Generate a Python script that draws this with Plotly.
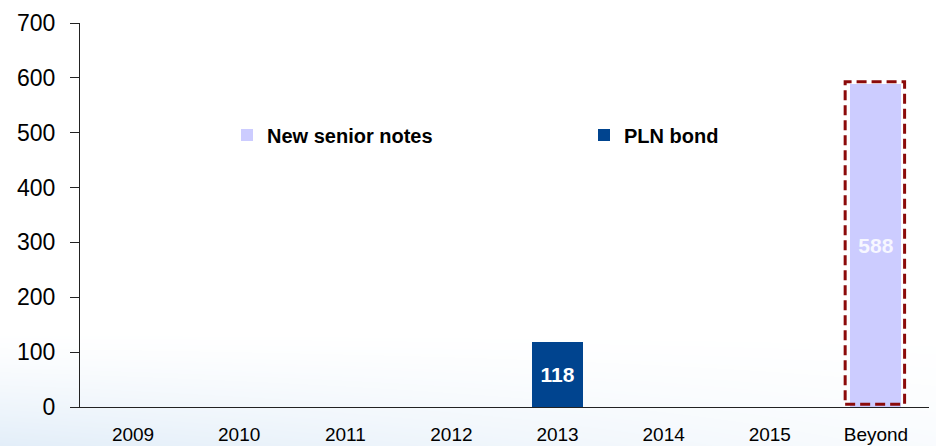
import base64
import struct
import zlib

import numpy as np
import plotly.graph_objects as go

# ---- data -------------------------------------------------------------
categories = ["2009", "2010", "2011", "2012", "2013", "2014", "2015", "Beyond"]
new_senior_notes = [None, None, None, None, None, None, None, 588]
pln_bond = [None, None, None, None, 118, None, None, None]
y_ticks = [0, 100, 200, 300, 400, 500, 600, 700]

FONT = "Liberation Sans, Arial, sans-serif"
W, H = 936, 446
MARGIN = dict(l=80, r=7, t=23, b=39, autoexpand=False)


def png_data_uri(rgba):
    """Encode an RGBA uint8 array as a PNG data URI (stdlib only)."""
    h, w, _ = rgba.shape
    raw = b"".join(b"\x00" + rgba[i].tobytes() for i in range(h))

    def chunk(tag, data):
        c = struct.pack(">I", len(data)) + tag + data
        return c + struct.pack(">I", zlib.crc32(tag + data) & 0xFFFFFFFF)

    png = (b"\x89PNG\r\n\x1a\n"
           + chunk(b"IHDR", struct.pack(">IIBBBBB", w, h, 8, 6, 0, 0, 0))
           + chunk(b"IDAT", zlib.compress(raw, 9))
           + chunk(b"IEND", b""))
    return "data:image/png;base64," + base64.b64encode(png).decode()


# soft light-blue wash along the bottom of the page, fading up and to the right
GRAD_TOP = 330
gh = H - GRAD_TOP
yy, xx = np.mgrid[0:gh, 0:W].astype(float)
v = np.clip(yy / (gh - 1), 0, 1) ** 1.3
hfac = np.clip(1.0 - xx / 1000.0, 0, 1) ** 1.2
alpha = 0.66 * v * (0.2 + 0.8 * hfac)
img = np.zeros((gh, W, 4), dtype=np.uint8)
img[..., 0] = 212
img[..., 1] = 229
img[..., 2] = 245
img[..., 3] = np.clip(alpha * 255, 0, 255).astype(np.uint8)
wash = png_data_uri(img)

pw = W - MARGIN["l"] - MARGIN["r"]
ph = H - MARGIN["t"] - MARGIN["b"]


def px_x(px):
    return (px - MARGIN["l"]) / pw


def px_y(py):
    return (H - MARGIN["b"] - py) / ph


fig = go.Figure()

fig.add_trace(go.Bar(
    name="New senior notes",
    x=categories,
    y=new_senior_notes,
    marker=dict(color="#CCCCFF", line=dict(width=0)),
    texttemplate="%{y}",
    textposition="inside",
    insidetextanchor="middle",
    textangle=0,
    textfont=dict(family=FONT, size=21, color="#F7F7FF", weight="bold"),
    legend="legend",
))
fig.add_trace(go.Bar(
    name="PLN bond",
    x=categories,
    y=pln_bond,
    marker=dict(color="#00448F", line=dict(width=0)),
    texttemplate="%{y}",
    textposition="inside",
    insidetextanchor="middle",
    textangle=0,
    textfont=dict(family=FONT, size=21, color="white", weight="bold"),
    legend="legend2",
))

# dashed highlight around the "Beyond" bar
beyond_idx = categories.index("Beyond")
beyond_val = new_senior_notes[beyond_idx]
fig.add_shape(
    type="rect", xref="x", yref="y",
    x0=beyond_idx - 0.29, x1=beyond_idx + 0.27,
    y0=5, y1=beyond_val + 5,
    line=dict(color="#8B0A0A", width=3, dash="10px,5px"),
    fillcolor="rgba(0,0,0,0)",
    layer="above",
)

fig.add_layout_image(
    source=wash, xref="paper", yref="paper",
    x=px_x(0), y=px_y(GRAD_TOP),
    sizex=W / pw, sizey=gh / ph,
    xanchor="left", yanchor="top",
    sizing="stretch", layer="below",
)

legend_style = dict(
    orientation="h", xanchor="left", yanchor="middle",
    font=dict(family=FONT, size=20, color="black", weight="bold"),
    bgcolor="rgba(0,0,0,0)",
)

fig.update_layout(
    width=W, height=H,
    margin=MARGIN,
    paper_bgcolor="white",
    plot_bgcolor="rgba(0,0,0,0)",
    barmode="stack",
    bargap=0.52,
    font=dict(family=FONT, color="black"),
    showlegend=True,
    legend=dict(x=px_x(227), y=px_y(135), **legend_style),
    legend2=dict(x=px_x(584), y=px_y(135), **legend_style),
    xaxis=dict(
        type="category",
        categoryorder="array", categoryarray=categories,
        range=[-0.5, len(categories) - 0.5],
        showline=True, linecolor="#222222", linewidth=1,
        ticks="", showgrid=False, zeroline=False,
        tickfont=dict(family=FONT, size=19, color="black"),
        ticklabelstandoff=10,
        automargin=False,
    ),
    yaxis=dict(
        range=[0, 700],
        tickvals=y_ticks,
        showline=True, linecolor="#222222", linewidth=1,
        ticks="outside", ticklen=9, tickcolor="#222222", tickwidth=1,
        showgrid=False, zeroline=False,
        tickfont=dict(family=FONT, size=23, color="black"),
        ticklabelstandoff=10,
        automargin=False,
    ),
)

fig.write_html("out.html")
